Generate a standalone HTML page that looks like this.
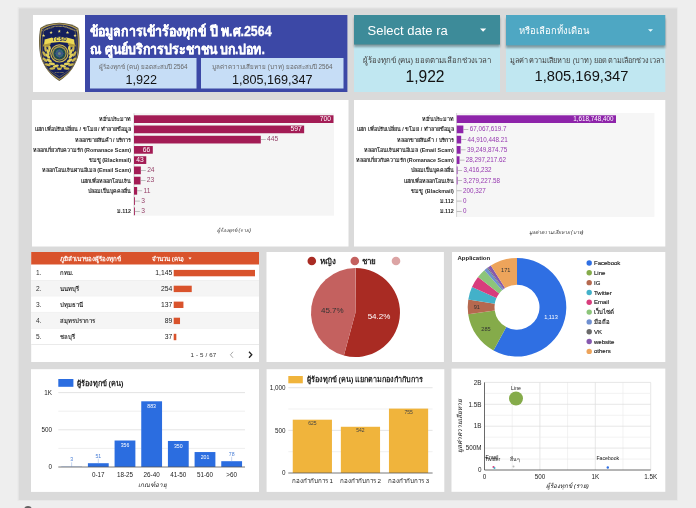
<!DOCTYPE html>
<html lang="th"><head><meta charset="utf-8"><title>ข้อมูลการเข้าร้องทุกข์ ปี พ.ศ.2564</title>
<style>
html,body{margin:0;padding:0}
body{width:696px;height:508px;overflow:hidden;background:#eee;font-family:"Liberation Sans",sans-serif;position:relative;color:#222}
.abs{position:absolute}
.t{position:absolute;white-space:nowrap;line-height:1}
svg{position:absolute;left:0;top:0;overflow:visible}
svg text{font-family:"Liberation Sans",sans-serif}
</style></head><body style="filter:blur(.4px)">
<svg width="696" height="508" viewBox="0 0 696 508"><rect x="18.50" y="8.20" width="658.50" height="491.80" fill="#dadada"/>
<rect x="18" y="7.7" width="659.5" height="492.8" fill="none" stroke="#e6e6e6" stroke-width=".8"/>
<rect x="33.00" y="15.00" width="52.00" height="77.00" fill="#fff"/>
<rect x="85.00" y="15.00" width="262.40" height="77.00" fill="#3c48a6"/>
<rect x="90.00" y="58.00" width="106.50" height="30.50" fill="#c6ddf6"/>
<rect x="201.00" y="58.00" width="142.50" height="30.50" fill="#c6ddf6"/>
<rect x="354.00" y="45.00" width="146.00" height="47.00" fill="#c0e7f1"/>
<rect x="506.00" y="46.00" width="159.30" height="46.00" fill="#c0e7f1"/>
<defs><filter id="sh" x="-5%" y="-20%" width="110%" height="160%"><feGaussianBlur stdDeviation="1.1"/></filter></defs>
<rect x="354" y="17.5" width="146" height="29.5" fill="#000" opacity=".32" filter="url(#sh)"/>
<rect x="506" y="18.5" width="159.3" height="29.5" fill="#000" opacity=".32" filter="url(#sh)"/>
<rect x="354.00" y="15.00" width="146.00" height="29.60" fill="#3d8b99"/>
<rect x="506.00" y="15.00" width="159.30" height="30.50" fill="#4ea7c3"/>
<path d="M480 28.6h6.2l-3.1 3.1z" fill="#fff"/>
<path d="M648 29.2h5l-2.5 2.5z" fill="#e8fbff"/>
<rect x="32.00" y="100.00" width="316.50" height="146.50" fill="#fff"/>
<rect x="354.00" y="100.00" width="311.30" height="146.50" fill="#fff"/>
<rect x="31.20" y="252.00" width="227.80" height="110.00" fill="#fff"/>
<rect x="266.50" y="252.00" width="177.40" height="110.00" fill="#fff"/>
<rect x="452.00" y="252.00" width="213.30" height="110.00" fill="#fff"/>
<rect x="31.00" y="369.20" width="228.00" height="122.70" fill="#fff"/>
<rect x="266.60" y="369.20" width="177.70" height="122.70" fill="#fff"/>
<rect x="451.50" y="368.60" width="213.80" height="123.20" fill="#fff"/>
<rect x="134.00" y="113.20" width="200.00" height="102.50" fill="#f5f5f5"/>
<rect x="133.70" y="113.20" width="0.60" height="102.50" fill="#bbb"/>
<rect x="134.00" y="115.30" width="199.50" height="7.70" fill="#a31c55"/>
<rect x="134.00" y="125.54" width="170.15" height="7.70" fill="#a31c55"/>
<rect x="134.00" y="135.78" width="126.82" height="7.70" fill="#a31c55"/>
<rect x="260.82" y="139.33" width="5.00" height="0.60" fill="#999"/>
<rect x="134.00" y="146.02" width="18.81" height="7.70" fill="#a31c55"/>
<rect x="134.00" y="156.26" width="12.26" height="7.70" fill="#a31c55"/>
<rect x="134.00" y="166.50" width="6.84" height="7.70" fill="#a31c55"/>
<rect x="140.84" y="170.05" width="5.00" height="0.60" fill="#999"/>
<rect x="134.00" y="176.74" width="6.55" height="7.70" fill="#a31c55"/>
<rect x="140.56" y="180.29" width="5.00" height="0.60" fill="#999"/>
<rect x="134.00" y="186.98" width="3.14" height="7.70" fill="#a31c55"/>
<rect x="137.13" y="190.53" width="5.00" height="0.60" fill="#999"/>
<rect x="134.00" y="197.22" width="0.86" height="7.70" fill="#a31c55"/>
<rect x="134.85" y="200.77" width="5.00" height="0.60" fill="#999"/>
<rect x="134.00" y="207.46" width="0.86" height="7.70" fill="#a31c55"/>
<rect x="134.85" y="211.01" width="5.00" height="0.60" fill="#999"/>
<rect x="456.75" y="113.00" width="197.65" height="103.90" fill="#f6f6f6"/>
<rect x="456.45" y="113.00" width="0.60" height="103.90" fill="#bbb"/>
<rect x="456.75" y="115.30" width="159.25" height="7.70" fill="#8e24aa"/>
<rect x="456.75" y="125.54" width="6.60" height="7.70" fill="#8e24aa"/>
<rect x="463.35" y="129.09" width="5.00" height="0.60" fill="#999"/>
<rect x="456.75" y="135.78" width="4.42" height="7.70" fill="#8e24aa"/>
<rect x="461.17" y="139.33" width="5.00" height="0.60" fill="#999"/>
<rect x="456.75" y="146.02" width="3.86" height="7.70" fill="#8e24aa"/>
<rect x="460.61" y="149.57" width="5.00" height="0.60" fill="#999"/>
<rect x="456.75" y="156.26" width="2.78" height="7.70" fill="#8e24aa"/>
<rect x="459.53" y="159.81" width="5.00" height="0.60" fill="#999"/>
<rect x="456.75" y="166.50" width="0.80" height="7.70" fill="#8e24aa"/>
<rect x="457.09" y="170.05" width="5.00" height="0.60" fill="#999"/>
<rect x="456.75" y="176.74" width="0.80" height="7.70" fill="#8e24aa"/>
<rect x="457.07" y="180.29" width="5.00" height="0.60" fill="#999"/>
<rect x="456.77" y="190.53" width="5.00" height="0.60" fill="#999"/>
<rect x="456.75" y="200.77" width="5.00" height="0.60" fill="#999"/>
<rect x="456.75" y="211.01" width="5.00" height="0.60" fill="#999"/></svg>
<div class="t" style="left:90.2px;top:25.1px;font-size:12.4px;font-weight:bold;color:#fff;-webkit-text-stroke:.25px #fff;transform:scale(1,1.12);transform-origin:0 0">ข้อมูลการเข้าร้องทุกข์ ปี พ.ศ.2564</div>
<div class="t" style="left:90.2px;top:42.6px;font-size:12.35px;font-weight:bold;color:#fff;-webkit-text-stroke:.25px #fff;transform:scale(1,1.12);transform-origin:0 0">ณ ศูนย์บริการประชาชน บก.ปอท.</div>
<div class="t" style="left:90px;width:106.5px;top:63.6px;text-align:center;font-size:6.28px;color:#666">ผู้ร้องทุกข์ (คน) ยอดสะสมปี 2564</div>
<div class="t" style="left:88px;width:106.5px;top:74.4px;text-align:center;font-size:12.6px;color:#111">1,922</div>
<div class="t" style="left:201px;width:142.5px;top:63.6px;text-align:center;font-size:6.28px;color:#666">มูลค่าความเสียหาย (บาท) ยอดสะสมปี 2564</div>
<div class="t" style="left:201px;width:142.5px;top:74.4px;text-align:center;font-size:12.6px;color:#111">1,805,169,347</div>
<div class="t" style="left:367.5px;top:23.7px;font-size:13px;color:#fff">Select date ra</div>
<div class="t" style="left:519.3px;top:26px;font-size:9.45px;color:#fff">หรือเลือกทั้งเดือน</div>
<div class="t" style="left:354px;width:146px;top:56.8px;text-align:center;font-size:7.8px;color:#444">ผู้ร้องทุกข์ (คน) ยอดตามเลือกช่วงเวลา</div>
<div class="t" style="left:354px;width:146px;top:69px;text-align:center;font-size:15.6px;color:#111;text-indent:-4px">1,922</div>
<div class="t" style="left:510.2px;top:57.1px;letter-spacing:.1px;font-size:7.3px;color:#444">มูลค่าความเสียหาย (บาท) ยอดตามเลือกช่วงเวลา</div>
<div class="t" style="left:506px;width:159px;top:69px;text-align:center;font-size:14.7px;color:#111;text-indent:-8px">1,805,169,347</div>
<div class="t" style="left:0px;width:131px;text-align:right;top:117.25px;font-size:5.4px;font-weight:bold;color:#2a2a2a">หมิ่นประมาท</div>
<div class="t" style="left:134px;width:197.00px;text-align:right;top:116.00px;font-size:6.7px;color:#fff">700</div>
<div class="t" style="left:0px;width:131px;text-align:right;top:127.49px;font-size:5.4px;font-weight:bold;color:#2a2a2a">แฮก เพื่อปรับเปลี่ยน / ขโมย / ทำลายข้อมูล</div>
<div class="t" style="left:134px;width:167.65px;text-align:right;top:126.24px;font-size:6.7px;color:#fff">597</div>
<div class="t" style="left:0px;width:131px;text-align:right;top:137.73px;font-size:5.4px;font-weight:bold;color:#2a2a2a">หลอกขายสินค้า / บริการ</div>
<div class="t" style="left:267.12px;top:136.48px;font-size:6.7px;color:#96426a">445</div>
<div class="t" style="left:0px;width:131px;text-align:right;top:147.97px;font-size:5.4px;font-weight:bold;color:#2a2a2a">หลอกเกี่ยวกับความรัก (Romanace Scam)</div>
<div class="t" style="left:134px;width:16.31px;text-align:right;top:146.72px;font-size:6.7px;color:#fff">66</div>
<div class="t" style="left:0px;width:131px;text-align:right;top:158.21px;font-size:5.4px;font-weight:bold;color:#2a2a2a">ข่มขู่ (Blackmail)</div>
<div class="t" style="left:134px;width:9.76px;text-align:right;top:156.96px;font-size:6.7px;color:#fff">43</div>
<div class="t" style="left:0px;width:131px;text-align:right;top:168.45px;font-size:5.4px;font-weight:bold;color:#2a2a2a">หลอกโอนเงินผ่านอีเมล (Email Scam)</div>
<div class="t" style="left:147.14px;top:167.20px;font-size:6.7px;color:#96426a">24</div>
<div class="t" style="left:0px;width:131px;text-align:right;top:178.69px;font-size:5.4px;font-weight:bold;color:#2a2a2a">แฮกเพื่อหลอกโอนเงิน</div>
<div class="t" style="left:146.86px;top:177.44px;font-size:6.7px;color:#96426a">23</div>
<div class="t" style="left:0px;width:131px;text-align:right;top:188.93px;font-size:5.4px;font-weight:bold;color:#2a2a2a">ปลอมเป็นบุคคลอื่น</div>
<div class="t" style="left:143.44px;top:187.68px;font-size:6.7px;color:#96426a">11</div>
<div class="t" style="left:141.16px;top:197.92px;font-size:6.7px;color:#96426a">3</div>
<div class="t" style="left:0px;width:131px;text-align:right;top:209.41px;font-size:5.4px;font-weight:bold;color:#2a2a2a">ม.112</div>
<div class="t" style="left:141.16px;top:208.16px;font-size:6.7px;color:#96426a">3</div>
<div class="t" style="left:174px;width:120px;text-align:center;top:228px;font-size:5.0px;font-style:italic;color:#333">ผู้ร้องทุกข์ (ราย)</div>
<div class="t" style="left:322.75px;width:131px;text-align:right;top:117.25px;font-size:5.4px;font-weight:bold;color:#2a2a2a">หมิ่นประมาท</div>
<div class="t" style="left:456.75px;width:156.75px;text-align:right;top:116.19px;font-size:6.3px;color:#fff">1,618,748,400</div>
<div class="t" style="left:322.75px;width:131px;text-align:right;top:127.49px;font-size:5.4px;font-weight:bold;color:#2a2a2a">แฮก เพื่อปรับเปลี่ยน / ขโมย / ทำลายข้อมูล</div>
<div class="t" style="left:469.65px;top:126.43px;font-size:6.3px;color:#9638b0">67,067,619.7</div>
<div class="t" style="left:322.75px;width:131px;text-align:right;top:137.73px;font-size:5.4px;font-weight:bold;color:#2a2a2a">หลอกขายสินค้า / บริการ</div>
<div class="t" style="left:467.47px;top:136.67px;font-size:6.3px;color:#9638b0">44,910,448.21</div>
<div class="t" style="left:322.75px;width:131px;text-align:right;top:147.97px;font-size:5.4px;font-weight:bold;color:#2a2a2a">หลอกโอนเงินผ่านอีเมล (Email Scam)</div>
<div class="t" style="left:466.91px;top:146.91px;font-size:6.3px;color:#9638b0">39,249,874.75</div>
<div class="t" style="left:322.75px;width:131px;text-align:right;top:158.21px;font-size:5.4px;font-weight:bold;color:#2a2a2a">หลอกเกี่ยวกับความรัก (Romanace Scam)</div>
<div class="t" style="left:465.83px;top:157.15px;font-size:6.3px;color:#9638b0">28,297,217.62</div>
<div class="t" style="left:322.75px;width:131px;text-align:right;top:168.45px;font-size:5.4px;font-weight:bold;color:#2a2a2a">ปลอมเป็นบุคคลอื่น</div>
<div class="t" style="left:463.39px;top:167.39px;font-size:6.3px;color:#9638b0">3,416,232</div>
<div class="t" style="left:322.75px;width:131px;text-align:right;top:178.69px;font-size:5.4px;font-weight:bold;color:#2a2a2a">แฮกเพื่อหลอกโอนเงิน</div>
<div class="t" style="left:463.37px;top:177.63px;font-size:6.3px;color:#9638b0">3,279,227.58</div>
<div class="t" style="left:322.75px;width:131px;text-align:right;top:188.93px;font-size:5.4px;font-weight:bold;color:#2a2a2a">ข่มขู่ (Blackmail)</div>
<div class="t" style="left:463.07px;top:187.87px;font-size:6.3px;color:#9638b0">200,327</div>
<div class="t" style="left:322.75px;width:131px;text-align:right;top:199.17px;font-size:5.4px;font-weight:bold;color:#2a2a2a">ม.112</div>
<div class="t" style="left:463.05px;top:198.11px;font-size:6.3px;color:#9638b0">0</div>
<div class="t" style="left:322.75px;width:131px;text-align:right;top:209.41px;font-size:5.4px;font-weight:bold;color:#2a2a2a">ม.112</div>
<div class="t" style="left:463.05px;top:208.35px;font-size:6.3px;color:#9638b0">0</div>
<div class="t" style="left:496px;width:120px;text-align:center;top:230px;font-size:5.1px;font-style:italic;color:#333">มูลค่าความเสียหาย (บาท)</div><svg width="696" height="508" viewBox="0 0 696 508">
<path d="M59.3 22.7 C67.3 23.0 73.5 24.7 78.3 27.9 C80.1 36.7 79.9 48.7 78.0 56.7 C74.5 67.7 68.3 75.0 59.3 81.0 C50.3 75.0 44.1 67.7 40.6 56.7 C38.7 48.7 38.5 36.7 40.300000000000004 27.9 C45.1 24.7 51.3 23.0 59.3 22.7Z" fill="#5a5236"/>
<path d="M59.3 23.4 C67.3 23.7 72.8 25.4 77.6 28.599999999999998 C79.39999999999999 37.4 79.2 49.4 77.3 57.4 C73.8 68.4 68.3 74.09 59.3 80.09 C50.3 74.09 44.800000000000004 68.4 41.300000000000004 57.4 C39.400000000000006 49.4 39.2 37.4 41.00000000000001 28.599999999999998 C45.800000000000004 25.4 51.3 23.7 59.3 23.4Z" fill="#b09a52"/>
<path d="M59.3 24.4 C67.3 24.7 71.8 26.4 76.6 29.599999999999998 C78.39999999999999 38.4 78.2 50.4 76.3 58.4 C72.8 69.4 68.3 72.79 59.3 78.79 C50.3 72.79 45.800000000000004 69.4 42.300000000000004 58.4 C40.400000000000006 50.4 40.2 38.4 42.00000000000001 29.599999999999998 C46.800000000000004 26.4 51.3 24.7 59.3 24.4Z" fill="#15205c"/>
<path d="M59.3 25.9 C67.3 26.2 70.3 27.9 75.1 31.099999999999998 C76.89999999999999 39.9 76.7 51.9 74.8 59.9 C71.3 70.9 68.3 70.84 59.3 76.84 C50.3 70.84 47.300000000000004 70.9 43.800000000000004 59.9 C41.900000000000006 51.9 41.7 39.9 43.50000000000001 31.099999999999998 C48.300000000000004 27.9 51.3 26.2 59.3 25.9Z" fill="none" stroke="#9c8a4c" stroke-width=".5"/>
<text transform="translate(48.6,29.3) rotate(-19)" font-size="2" fill="#c9b765" font-weight="bold" text-anchor="middle" letter-spacing=".1">TECHNOLOGY</text>
<text x="59.3" y="27.2" font-size="2" fill="#c9b765" font-weight="bold" text-anchor="middle" letter-spacing=".1">CRIME</text>
<text transform="translate(70,29.3) rotate(19)" font-size="2" fill="#c9b765" font-weight="bold" text-anchor="middle" letter-spacing=".1">SUPPRESSION</text>
<polygon points="43.60,33.90 44.02,35.02 45.22,35.07 44.28,35.82 44.60,36.98 43.60,36.31 42.60,36.98 42.92,35.82 41.98,35.07 43.18,35.02" fill="#f1e27a"/>
<polygon points="51.10,30.80 51.52,31.92 52.72,31.97 51.78,32.72 52.10,33.88 51.10,33.21 50.10,33.88 50.42,32.72 49.48,31.97 50.68,31.92" fill="#f1e27a"/>
<polygon points="59.30,29.60 59.72,30.72 60.92,30.77 59.98,31.52 60.30,32.68 59.30,32.01 58.30,32.68 58.62,31.52 57.68,30.77 58.88,30.72" fill="#f1e27a"/>
<polygon points="67.50,30.80 67.92,31.92 69.12,31.97 68.18,32.72 68.50,33.88 67.50,33.21 66.50,33.88 66.82,32.72 65.88,31.97 67.08,31.92" fill="#f1e27a"/>
<polygon points="75.00,33.90 75.42,35.02 76.62,35.07 75.68,35.82 76.00,36.98 75.00,36.31 74.00,36.98 74.32,35.82 73.38,35.07 74.58,35.02" fill="#f1e27a"/>
<path d="M45.5 40 L42.6 46.2 L48.6 47.4 L51 43.5Z" fill="#b09a3c"/>
<path d="M73.1 40 L76 46.2 L70 47.4 L67.6 43.5Z" fill="#b09a3c"/>
<ellipse cx="66.54" cy="68.42" rx="1.25" ry="3.0" transform="rotate(-85.1 66.54 68.42)" fill="#cbb64c"/>
<ellipse cx="71.04" cy="64.77" rx="1.25" ry="3.0" transform="rotate(-107.1 71.04 64.77)" fill="#cbb64c"/>
<ellipse cx="73.86" cy="59.70" rx="1.25" ry="3.0" transform="rotate(-129.1 73.86 59.70)" fill="#cbb64c"/>
<ellipse cx="74.56" cy="53.94" rx="1.25" ry="3.0" transform="rotate(-151.1 74.56 53.94)" fill="#cbb64c"/>
<ellipse cx="73.29" cy="48.82" rx="1.25" ry="3.0" transform="rotate(-171.1 73.29 48.82)" fill="#cbb64c"/>
<ellipse cx="62.98" cy="66.03" rx="1.35" ry="3.1" transform="rotate(-75.1 62.98 66.03)" fill="#e3d15a"/>
<ellipse cx="66.86" cy="63.89" rx="1.35" ry="3.1" transform="rotate(-97.1 66.86 63.89)" fill="#e3d15a"/>
<ellipse cx="69.64" cy="60.45" rx="1.35" ry="3.1" transform="rotate(-119.1 69.64 60.45)" fill="#e3d15a"/>
<ellipse cx="70.94" cy="56.21" rx="1.35" ry="3.1" transform="rotate(-141.1 70.94 56.21)" fill="#e3d15a"/>
<ellipse cx="70.66" cy="52.19" rx="1.35" ry="3.1" transform="rotate(-161.1 70.66 52.19)" fill="#e3d15a"/>
<ellipse cx="69.24" cy="48.85" rx="1.35" ry="3.1" transform="rotate(-179.1 69.24 48.85)" fill="#e3d15a"/>
<ellipse cx="52.26" cy="68.42" rx="1.25" ry="3.0" transform="rotate(85.1 52.26 68.42)" fill="#cbb64c"/>
<ellipse cx="47.76" cy="64.77" rx="1.25" ry="3.0" transform="rotate(107.1 47.76 64.77)" fill="#cbb64c"/>
<ellipse cx="44.94" cy="59.70" rx="1.25" ry="3.0" transform="rotate(129.1 44.94 59.70)" fill="#cbb64c"/>
<ellipse cx="44.24" cy="53.94" rx="1.25" ry="3.0" transform="rotate(151.1 44.24 53.94)" fill="#cbb64c"/>
<ellipse cx="45.51" cy="48.82" rx="1.25" ry="3.0" transform="rotate(171.1 45.51 48.82)" fill="#cbb64c"/>
<ellipse cx="55.82" cy="66.03" rx="1.35" ry="3.1" transform="rotate(75.1 55.82 66.03)" fill="#e3d15a"/>
<ellipse cx="51.94" cy="63.89" rx="1.35" ry="3.1" transform="rotate(97.1 51.94 63.89)" fill="#e3d15a"/>
<ellipse cx="49.16" cy="60.45" rx="1.35" ry="3.1" transform="rotate(119.1 49.16 60.45)" fill="#e3d15a"/>
<ellipse cx="47.86" cy="56.21" rx="1.35" ry="3.1" transform="rotate(141.1 47.86 56.21)" fill="#e3d15a"/>
<ellipse cx="48.14" cy="52.19" rx="1.35" ry="3.1" transform="rotate(161.1 48.14 52.19)" fill="#e3d15a"/>
<ellipse cx="49.56" cy="48.85" rx="1.35" ry="3.1" transform="rotate(179.1 49.56 48.85)" fill="#e3d15a"/>
<path d="M56.4 66.5 Q59.4 69 62.4 66.5 L61.4 69.5 Q59.4 70.5 57.4 69.5Z" fill="#cbb64c"/>
<path d="M44.6 39.6 Q59.4 33.8 74.2 39.6 L74.4 44.6 Q59.4 39.6 44.4 44.6Z" fill="#ecd955"/>
<text x="59.6" y="41.3" font-size="4.8" font-weight="bold" fill="#15205c" letter-spacing=".55" text-anchor="middle">TCSD</text>
<circle cx="59.4" cy="53.4" r="9.7" fill="#15205c"/>
<circle cx="59.4" cy="53.4" r="9.2" fill="#cdb94f"/>
<circle cx="59.4" cy="53.4" r="8.0" fill="#1d2452"/>
<circle cx="59.4" cy="53.4" r="7.3" fill="#a99a48"/>
<circle cx="59.4" cy="53.4" r="6.0" fill="#1f4a52"/>
<circle cx="59.4" cy="53.4" r="3.8" fill="#356a78"/>
<path d="M59.4 48.4 L61.0 51.8 L64.4 53.4 L61.0 55.0 L59.4 58.4 L57.8 55.0 L54.4 53.4 L57.8 51.8Z" fill="#414c8c" opacity=".8"/>
<circle cx="59.4" cy="53.4" r="1.5" fill="#6c8a78"/>
<text x="59.3" y="73" font-size="2.2" font-weight="bold" fill="#cbb860" text-anchor="middle" letter-spacing=".2">POLICE</text>
</svg><svg width="696" height="508" viewBox="0 0 696 508">
<rect x="31.2" y="252" width="227.8" height="12.7" fill="#d9532c"/>
<rect x="31.2" y="264.7" width="227.8" height="15.80" fill="#fff"/>
<rect x="31.2" y="280.15" width="227.8" height=".7" fill="#e2e2e2"/>
<rect x="173.7" y="269.90" width="81.30" height="6.4" fill="#d9532c"/>
<rect x="31.2" y="280.5" width="227.8" height="15.80" fill="#f5f5f5"/>
<rect x="31.2" y="295.95" width="227.8" height=".7" fill="#e2e2e2"/>
<rect x="173.7" y="285.70" width="18.04" height="6.4" fill="#d9532c"/>
<rect x="31.2" y="296.3" width="227.8" height="16.00" fill="#fff"/>
<rect x="31.2" y="311.95" width="227.8" height=".7" fill="#e2e2e2"/>
<rect x="173.7" y="301.60" width="9.73" height="6.4" fill="#d9532c"/>
<rect x="31.2" y="312.3" width="227.8" height="16.20" fill="#f5f5f5"/>
<rect x="31.2" y="328.15" width="227.8" height=".7" fill="#e2e2e2"/>
<rect x="173.7" y="317.70" width="6.32" height="6.4" fill="#d9532c"/>
<rect x="31.2" y="328.5" width="227.8" height="16.00" fill="#fff"/>
<rect x="31.2" y="344.15" width="227.8" height=".7" fill="#e2e2e2"/>
<rect x="173.7" y="333.80" width="2.63" height="6.4" fill="#d9532c"/>
<path d="M188.4 257.6h3.2l-1.6 1.9z" fill="#fff"/>
<path d="M233 351.8 L230.4 354.8 L233 357.8" fill="none" stroke="#aaa" stroke-width="1"/><path d="M249 351.8 L251.8 354.8 L249 357.8" fill="none" stroke="#222" stroke-width="1.3"/>
</svg>
<div class="t" style="left:59.5px;top:255.5px;font-size:6.15px;font-weight:bold;color:#fff">ภูมิลำเนาของผู้ร้องทุกข์</div>
<div class="t" style="left:152px;top:255.5px;font-size:6.15px;font-weight:bold;color:#fff">จำนวน (คน)</div>
<div class="t" style="left:36px;top:270.0px;font-size:6.6px;color:#333">1.</div>
<div class="t" style="left:59.5px;top:271.0px;font-size:5.97px;font-weight:bold;color:#333">กทม.</div>
<div class="t" style="left:130px;width:42.3px;text-align:right;top:269.9px;font-size:6.8px;color:#222">1,145</div>
<div class="t" style="left:36px;top:285.8px;font-size:6.6px;color:#333">2.</div>
<div class="t" style="left:59.5px;top:286.8px;font-size:5.97px;font-weight:bold;color:#333">นนทบุรี</div>
<div class="t" style="left:130px;width:42.3px;text-align:right;top:285.7px;font-size:6.8px;color:#222">254</div>
<div class="t" style="left:36px;top:301.7px;font-size:6.6px;color:#333">3.</div>
<div class="t" style="left:59.5px;top:302.7px;font-size:5.97px;font-weight:bold;color:#333">ปทุมธานี</div>
<div class="t" style="left:130px;width:42.3px;text-align:right;top:301.6px;font-size:6.8px;color:#222">137</div>
<div class="t" style="left:36px;top:317.8px;font-size:6.6px;color:#333">4.</div>
<div class="t" style="left:59.5px;top:318.8px;font-size:5.97px;font-weight:bold;color:#333">สมุทรปราการ</div>
<div class="t" style="left:130px;width:42.3px;text-align:right;top:317.7px;font-size:6.8px;color:#222">89</div>
<div class="t" style="left:36px;top:333.9px;font-size:6.6px;color:#333">5.</div>
<div class="t" style="left:59.5px;top:334.9px;font-size:5.97px;font-weight:bold;color:#333">ชลบุรี</div>
<div class="t" style="left:130px;width:42.3px;text-align:right;top:333.8px;font-size:6.8px;color:#222">37</div>
<div class="t" style="left:190.5px;top:351.8px;font-size:6.2px;color:#333;letter-spacing:.15px">1 - 5 / 67</div>
<svg width="696" height="508" viewBox="0 0 696 508">
<path d="M355.50 312.50L355.50 268.00A44.5 44.5 0 1 1 343.89 355.46Z" fill="#a92b23"/>
<path d="M355.50 312.50L343.89 355.46A44.5 44.5 0 0 1 355.22 268.00Z" fill="#c4615f"/>
<path d="M355.50 312.50L355.22 268.00A44.5 44.5 0 0 1 355.50 268.00Z" fill="#dca4a4"/>
<circle cx="311.8" cy="261" r="4.3" fill="#a92b23"/><circle cx="354.8" cy="261" r="4.3" fill="#c4615f"/><circle cx="396" cy="261" r="4.3" fill="#dca4a4"/>
<text x="320" y="264" font-size="8" font-weight="bold" fill="#222">หญิง</text>
<text x="362" y="264" font-size="8" font-weight="bold" fill="#222">ชาย</text>
<text x="379" y="318.6" font-size="8" fill="#fff" text-anchor="middle">54.2%</text>
<text x="332.3" y="313" font-size="8" fill="#333" text-anchor="middle">45.7%</text>
<path d="M517.00 257.90A49.3 49.3 0 1 1 493.50 350.54L506.27 326.98A22.5 22.5 0 1 0 517.00 284.70Z" fill="#2f6fe3"/>
<path d="M493.50 350.54A49.3 49.3 0 0 1 468.20 314.19L494.73 310.39A22.5 22.5 0 0 0 506.27 326.98Z" fill="#85ab4a"/>
<path d="M468.20 314.19A49.3 49.3 0 0 1 468.29 299.58L494.77 303.72A22.5 22.5 0 0 0 494.73 310.39Z" fill="#b5694f"/>
<path d="M468.29 299.58A49.3 49.3 0 0 1 471.99 287.09L496.46 298.02A22.5 22.5 0 0 0 494.77 303.72Z" fill="#43b1c9"/>
<path d="M471.99 287.09A49.3 49.3 0 0 1 478.01 277.02L499.21 293.43A22.5 22.5 0 0 0 496.46 298.02Z" fill="#d83d7c"/>
<path d="M478.01 277.02A49.3 49.3 0 0 1 484.40 270.22L502.12 290.32A22.5 22.5 0 0 0 499.21 293.43Z" fill="#8cc57a"/>
<path d="M484.40 270.22A49.3 49.3 0 0 1 487.01 268.07L503.32 289.34A22.5 22.5 0 0 0 502.12 290.32Z" fill="#6f8fd0"/>
<path d="M487.01 268.07A49.3 49.3 0 0 1 487.92 267.39L503.73 289.03A22.5 22.5 0 0 0 503.32 289.34Z" fill="#6a6a6a"/>
<path d="M487.92 267.39A49.3 49.3 0 0 1 490.85 265.40L505.07 288.12A22.5 22.5 0 0 0 503.73 289.03Z" fill="#8659ae"/>
<path d="M490.85 265.40A49.3 49.3 0 0 1 517.00 257.90L517.00 284.70A22.5 22.5 0 0 0 505.07 288.12Z" fill="#eda45b"/>
<text x="457.5" y="260.3" font-size="6" font-weight="bold" fill="#222">Application</text>
<text x="551" y="318.5" font-size="5.6" fill="#fff" text-anchor="middle">1,113</text>
<text x="486" y="331" font-size="5.6" fill="#333" text-anchor="middle">285</text>
<text x="476.8" y="308.7" font-size="5.6" fill="#333" text-anchor="middle">91</text>
<text x="505.7" y="271.9" font-size="5.6" fill="#333" text-anchor="middle">171</text>
<circle cx="589.2" cy="263.00" r="2.7" fill="#2f6fe3"/>
<text x="594" y="265.10" font-size="6" fill="#222" stroke="#222" stroke-width=".15">Facebook</text>
<circle cx="589.2" cy="272.82" r="2.7" fill="#85ab4a"/>
<text x="594" y="274.92" font-size="6" fill="#222" stroke="#222" stroke-width=".15">Line</text>
<circle cx="589.2" cy="282.64" r="2.7" fill="#b5694f"/>
<text x="594" y="284.74" font-size="6" fill="#222" stroke="#222" stroke-width=".15">IG</text>
<circle cx="589.2" cy="292.46" r="2.7" fill="#43b1c9"/>
<text x="594" y="294.56" font-size="6" fill="#222" stroke="#222" stroke-width=".15">Twitter</text>
<circle cx="589.2" cy="302.28" r="2.7" fill="#d83d7c"/>
<text x="594" y="304.38" font-size="6" fill="#222" stroke="#222" stroke-width=".15">Email</text>
<circle cx="589.2" cy="312.10" r="2.7" fill="#8cc57a"/>
<text x="594" y="314.20" font-size="6" fill="#222" stroke="#222" stroke-width=".15">เว็บไซต์</text>
<circle cx="589.2" cy="321.92" r="2.7" fill="#6f8fd0"/>
<text x="594" y="324.02" font-size="6" fill="#222" stroke="#222" stroke-width=".15">มือถือ</text>
<circle cx="589.2" cy="331.74" r="2.7" fill="#6a6a6a"/>
<text x="594" y="333.84" font-size="6" fill="#222" stroke="#222" stroke-width=".15">VK</text>
<circle cx="589.2" cy="341.56" r="2.7" fill="#8659ae"/>
<text x="594" y="343.66" font-size="6" fill="#222" stroke="#222" stroke-width=".15">website</text>
<circle cx="589.2" cy="351.38" r="2.7" fill="#eda45b"/>
<text x="594" y="353.48" font-size="6" fill="#222" stroke="#222" stroke-width=".15">others</text>
<line x1="58.3" x2="245" y1="448.40" y2="448.40" stroke="#e8e8e8" stroke-width=".7"/>
<line x1="58.3" x2="245" y1="429.80" y2="429.80" stroke="#d9d9d9" stroke-width=".7"/>
<line x1="58.3" x2="245" y1="411.20" y2="411.20" stroke="#e8e8e8" stroke-width=".7"/>
<line x1="58.3" x2="245" y1="392.60" y2="392.60" stroke="#d9d9d9" stroke-width=".7"/>
<rect x="61.24" y="466.78" width="20.8" height="0.22" fill="#2b6de0"/>
<line x1="71.64" x2="71.64" y1="466.78" y2="462.28" stroke="#9db8e8" stroke-width=".6"/>
<text x="71.64" y="461.48" font-size="5.2" fill="#4a7fd6" text-anchor="middle">3</text>
<rect x="87.91" y="463.21" width="20.8" height="3.79" fill="#2b6de0"/>
<line x1="98.31" x2="98.31" y1="463.21" y2="458.71" stroke="#9db8e8" stroke-width=".6"/>
<text x="98.31" y="457.91" font-size="5.2" fill="#4a7fd6" text-anchor="middle">51</text>
<text x="98.31" y="476.8" font-size="6.3" fill="#222" text-anchor="middle">0-17</text>
<rect x="114.58" y="440.51" width="20.8" height="26.49" fill="#2b6de0"/>
<text x="124.98" y="447.31" font-size="5.2" fill="#fff" text-anchor="middle">356</text>
<text x="124.98" y="476.8" font-size="6.3" fill="#222" text-anchor="middle">18-25</text>
<rect x="141.25" y="401.30" width="20.8" height="65.70" fill="#2b6de0"/>
<text x="151.65" y="408.10" font-size="5.2" fill="#fff" text-anchor="middle">883</text>
<text x="151.65" y="476.8" font-size="6.3" fill="#222" text-anchor="middle">26-40</text>
<rect x="167.92" y="440.96" width="20.8" height="26.04" fill="#2b6de0"/>
<text x="178.32" y="447.76" font-size="5.2" fill="#fff" text-anchor="middle">350</text>
<text x="178.32" y="476.8" font-size="6.3" fill="#222" text-anchor="middle">41-50</text>
<rect x="194.59" y="452.05" width="20.8" height="14.95" fill="#2b6de0"/>
<text x="204.99" y="458.85" font-size="5.2" fill="#fff" text-anchor="middle">201</text>
<text x="204.99" y="476.8" font-size="6.3" fill="#222" text-anchor="middle">51-60</text>
<rect x="221.26" y="461.20" width="20.8" height="5.80" fill="#2b6de0"/>
<line x1="231.66" x2="231.66" y1="461.20" y2="456.70" stroke="#9db8e8" stroke-width=".6"/>
<text x="231.66" y="455.90" font-size="5.2" fill="#4a7fd6" text-anchor="middle">78</text>
<text x="231.66" y="476.8" font-size="6.3" fill="#222" text-anchor="middle">&gt;60</text>
<line x1="58.3" x2="245" y1="467.0" y2="467.0" stroke="#555" stroke-width=".8"/>
<text x="52" y="394.80" font-size="6.3" fill="#222" text-anchor="end">1K</text>
<text x="52" y="432.00" font-size="6.3" fill="#222" text-anchor="end">500</text>
<text x="52" y="469.20" font-size="6.3" fill="#222" text-anchor="end">0</text>
<rect x="58.3" y="379" width="15.1" height="7.8" fill="#2b6de0"/>
<text x="76.6" y="385.6" font-size="7.3" font-weight="bold" fill="#222">ผู้ร้องทุกข์ (คน)</text>
<text x="152" y="487" font-size="6.3" font-style="italic" fill="#222" text-anchor="middle">เกณฑ์อายุ</text>
<line x1="288.3" x2="432.6" y1="451.68" y2="451.68" stroke="#ebebeb" stroke-width=".7"/>
<line x1="288.3" x2="432.6" y1="430.35" y2="430.35" stroke="#d9d9d9" stroke-width=".7"/>
<line x1="288.3" x2="432.6" y1="409.02" y2="409.02" stroke="#ebebeb" stroke-width=".7"/>
<line x1="288.3" x2="432.6" y1="387.70" y2="387.70" stroke="#d9d9d9" stroke-width=".7"/>
<rect x="292.75" y="419.69" width="39.2" height="53.31" fill="#f0b43c"/>
<text x="312.35" y="425.29" font-size="5" fill="#444" text-anchor="middle">625</text>
<text x="312.35" y="482.6" font-size="6.2" fill="#222" text-anchor="middle">กองกำกับการ 1</text>
<rect x="340.85" y="426.77" width="39.2" height="46.23" fill="#f0b43c"/>
<text x="360.45" y="432.37" font-size="5" fill="#444" text-anchor="middle">542</text>
<text x="360.45" y="482.6" font-size="6.2" fill="#222" text-anchor="middle">กองกำกับการ 2</text>
<rect x="388.95" y="408.60" width="39.2" height="64.40" fill="#f0b43c"/>
<text x="408.55" y="414.20" font-size="5" fill="#444" text-anchor="middle">755</text>
<text x="408.55" y="482.6" font-size="6.2" fill="#222" text-anchor="middle">กองกำกับการ 3</text>
<line x1="288.3" x2="432.6" y1="473.0" y2="473.0" stroke="#555" stroke-width=".8"/>
<text x="285.5" y="390.00" font-size="6.3" fill="#222" text-anchor="end">1,000</text>
<text x="285.5" y="432.65" font-size="6.3" fill="#222" text-anchor="end">500</text>
<text x="285.5" y="475.30" font-size="6.3" fill="#222" text-anchor="end">0</text>
<rect x="288.3" y="376" width="14.5" height="7.3" fill="#f0b43c"/>
<text x="306.6" y="382.4" font-size="7.26" font-weight="bold" fill="#222">ผู้ร้องทุกข์ (คน) แยกตามกองกำกับการ</text>
<line x1="512.20" x2="512.20" y1="470.0" y2="382.40" stroke="#ececec" stroke-width=".7"/>
<line x1="539.90" x2="539.90" y1="470.0" y2="382.40" stroke="#dcdcdc" stroke-width=".7"/>
<line x1="567.60" x2="567.60" y1="470.0" y2="382.40" stroke="#ececec" stroke-width=".7"/>
<line x1="595.30" x2="595.30" y1="470.0" y2="382.40" stroke="#dcdcdc" stroke-width=".7"/>
<line x1="623.00" x2="623.00" y1="470.0" y2="382.40" stroke="#ececec" stroke-width=".7"/>
<line x1="650.70" x2="650.70" y1="470.0" y2="382.40" stroke="#dcdcdc" stroke-width=".7"/>
<line x1="484.5" x2="650.70" y1="459.05" y2="459.05" stroke="#ececec" stroke-width=".7"/>
<line x1="484.5" x2="650.70" y1="448.10" y2="448.10" stroke="#dcdcdc" stroke-width=".7"/>
<line x1="484.5" x2="650.70" y1="437.15" y2="437.15" stroke="#ececec" stroke-width=".7"/>
<line x1="484.5" x2="650.70" y1="426.20" y2="426.20" stroke="#dcdcdc" stroke-width=".7"/>
<line x1="484.5" x2="650.70" y1="415.25" y2="415.25" stroke="#ececec" stroke-width=".7"/>
<line x1="484.5" x2="650.70" y1="404.30" y2="404.30" stroke="#dcdcdc" stroke-width=".7"/>
<line x1="484.5" x2="650.70" y1="393.35" y2="393.35" stroke="#ececec" stroke-width=".7"/>
<line x1="484.5" x2="650.70" y1="382.40" y2="382.40" stroke="#dcdcdc" stroke-width=".7"/>
<line x1="484.5" x2="484.5" y1="470.0" y2="382.40" stroke="#444" stroke-width=".8"/>
<line x1="484.5" x2="650.70" y1="470.0" y2="470.0" stroke="#444" stroke-width=".8"/>
<text x="481.5" y="384.60" font-size="6.3" fill="#222" text-anchor="end">2B</text>
<text x="481.5" y="406.50" font-size="6.3" fill="#222" text-anchor="end">1.5B</text>
<text x="481.5" y="428.40" font-size="6.3" fill="#222" text-anchor="end">1B</text>
<text x="481.5" y="450.30" font-size="6.3" fill="#222" text-anchor="end">500M</text>
<text x="481.5" y="472.20" font-size="6.3" fill="#222" text-anchor="end">0</text>
<text x="484.50" y="479.2" font-size="6.3" fill="#222" text-anchor="middle">0</text>
<text x="539.90" y="479.2" font-size="6.3" fill="#222" text-anchor="middle">500</text>
<text x="595.30" y="479.2" font-size="6.3" fill="#222" text-anchor="middle">1K</text>
<text x="650.70" y="479.2" font-size="6.3" fill="#222" text-anchor="middle">1.5K</text>
<circle cx="516" cy="398.5" r="7" fill="#85ab4a"/>
<text x="516" y="390" font-size="5.2" fill="#222" text-anchor="middle">Line</text>
<circle cx="607.8" cy="467.5" r="1.2" fill="#2f6fe3"/>
<text x="607.8" y="459.5" font-size="5.2" fill="#222" text-anchor="middle">Facebook</text>
<circle cx="493.5" cy="467" r="1.1" fill="#d83d7c"/><circle cx="494.5" cy="468" r="1" fill="#43b1c9"/><circle cx="513.5" cy="466.5" r="1" fill="#bbb"/>
<text x="492" y="459" font-size="5.2" fill="#222" text-anchor="middle">Email</text>
<text x="492.5" y="461.3" font-size="5.2" fill="#222" text-anchor="middle">Twitter</text>
<text x="514.5" y="460.5" font-size="5.2" fill="#222" text-anchor="middle">อื่นๆ</text>
<text transform="translate(462,426) rotate(-90)" font-size="6.5" font-style="italic" fill="#222" text-anchor="middle">มูลค่าความเสียหาย</text>
<text x="567.5" y="488" font-size="6.26" font-style="italic" fill="#222" text-anchor="middle">ผู้ร้องทุกข์ (ราย)</text>
</svg>
<div class="abs" style="left:23.6px;top:505.7px;width:8.6px;height:8.6px;border-radius:50%;background:#5f5f5f"></div></body></html>
